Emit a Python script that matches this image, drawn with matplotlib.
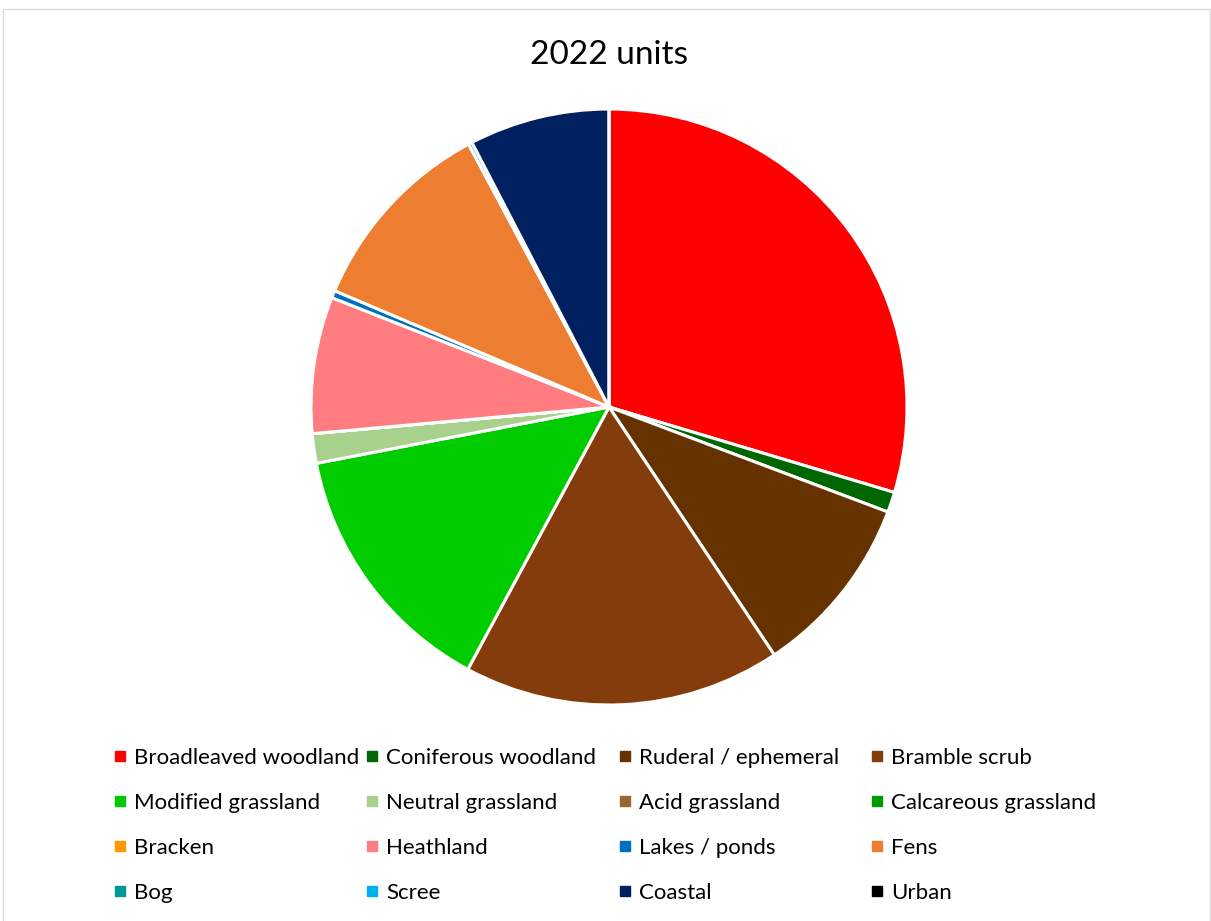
import matplotlib.pyplot as plt
from matplotlib.lines import Line2D
from matplotlib.patches import Rectangle

# Habitat shares (percent of units)
habitats = ["Broadleaved woodland", "Coniferous woodland", "Ruderal / ephemeral", "Bramble scrub",
            "Modified grassland", "Neutral grassland", "Acid grassland", "Calcareous grassland",
            "Bracken", "Heathland", "Lakes / ponds", "Fens",
            "Bog", "Scree", "Coastal", "Urban"]
shares = [29.6, 1.1, 9.9, 17.2,
          14.1, 1.6, 0.0, 0.0,
          0.0, 7.4, 0.4, 10.8,
          0.0, 0.2, 7.6, 0.0]
colours = ["#FF0000", "#006600", "#663300", "#843C0C",
           "#00CC00", "#A9D18E", "#996633", "#009900",
           "#FF9900", "#FF7C80", "#0070C0", "#ED7D31",
           "#009999", "#00B0F0", "#002060", "#000000"]

plt.rcParams['font.family'] = ['Lato', 'DejaVu Sans']

W, H = 1211, 921
fig = plt.figure(figsize=(W / 100, H / 100), dpi=100)

# thin chart-area border
fig.patches.append(Rectangle((3 / W, -0.01), (1210 - 3) / W, 1 - 9 / H + 0.01,
                             transform=fig.transFigure, fill=False,
                             edgecolor="#D9D9D9", linewidth=1))

cx, cy, r = 609, 407, 298
ax = fig.add_axes([(cx - r) / W, (H - cy - r) / H, 2 * r / W, 2 * r / H])
ax.pie(shares, colors=colours, startangle=90, counterclock=False, radius=1,
       wedgeprops=dict(edgecolor="white", linewidth=2.2))
ax.set_xlim(-1, 1)
ax.set_ylim(-1, 1)
ax.set_aspect("equal")

fig.text(609 / W, 1 - 55 / H, "2022 units", ha="center", va="center", fontsize=24)

# legend laid out row by row in four fixed columns
col_x = [114, 366, 619, 871]
for c in range(4):
    idx = [row * 4 + c for row in range(4)]
    handles = [Line2D([], [], linestyle="none", marker="s", markersize=6.5,
                      markerfacecolor=colours[i], markeredgecolor=colours[i]) for i in idx]
    fig.legend(handles, [habitats[i] for i in idx], loc="upper left",
               bbox_to_anchor=(col_x[c] / W, 1 - 748 / H), frameon=False,
               fontsize=16, handlelength=0.55, handletextpad=0.35,
               labelspacing=1.12, borderpad=0, borderaxespad=0)

fig.savefig("out.png", dpi=100)
